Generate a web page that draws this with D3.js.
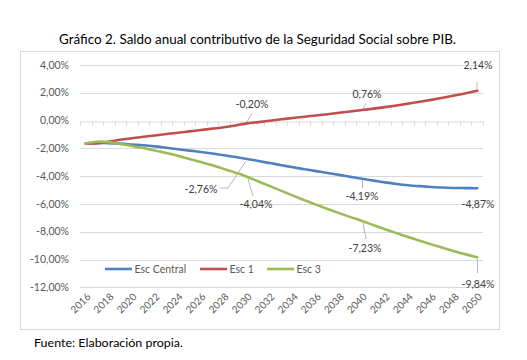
<!DOCTYPE html>
<html>
<head>
<meta charset="utf-8">
<script src="https://cdn.jsdelivr.net/npm/d3@7"></script>
<style>
  body { margin: 0; background: #fff; }
  svg { display: block; font-family: Lato, "Open Sans", sans-serif; }
</style>
</head>
<body>
<svg id="chart" width="527" height="360"></svg>
<script>
const years = d3.range(2016, 2051);
const seriesNames = ["Esc Central", "Esc 1", "Esc 3"];
const escCentral = [-1.65,-1.62,-1.62,-1.66,-1.72,-1.78,-1.86,-1.96,-2.06,-2.16,-2.26,-2.37,-2.49,-2.62,-2.76,
  -2.91,-3.06,-3.21,-3.36,-3.50,-3.64,-3.77,-3.91,-4.05,-4.19,
  -4.32,-4.45,-4.56,-4.65,-4.72,-4.78,-4.82,-4.85,-4.86,-4.87];
const esc1 = [-1.65,-1.62,-1.52,-1.38,-1.27,-1.16,-1.07,-0.97,-0.88,-0.78,-0.68,-0.58,-0.48,-0.35,-0.20,
  -0.11,-0.01,0.09,0.19,0.28,0.37,0.46,0.56,0.66,0.76,
  0.86,0.97,1.09,1.22,1.35,1.49,1.64,1.80,1.96,2.14];
const esc3 = [-1.65,-1.52,-1.55,-1.68,-1.83,-1.98,-2.15,-2.34,-2.54,-2.76,-2.98,-3.22,-3.48,-3.75,-4.04,
  -4.38,-4.72,-5.06,-5.40,-5.73,-6.05,-6.36,-6.66,-6.95,-7.23,
  -7.53,-7.82,-8.10,-8.38,-8.65,-8.91,-9.16,-9.40,-9.63,-9.84];
const yTicks = [4, 2, 0, -2, -4, -6, -8, -10, -12];
const xTickYears = years.filter(y => (y - 2016) % 2 === 0);
const colors = ["#4F81BD", "#C0504D", "#9BBB59"];
const title = "Gráfico 2. Saldo anual contributivo de la Seguridad Social sobre PIB.";
const source = "Fuente: Elaboración propia.";

const series = [escCentral, esc1, esc3];

const svg = d3.select("#chart");
const fmt = v => (v.toFixed(2).replace(".", ",")) + "%";

// chart border
svg.append("rect").attr("x", 20.5).attr("y", 51.5).attr("width", 479).attr("height", 278)
  .attr("fill", "#fff").attr("stroke", "#d9d9d9").attr("stroke-width", 1);

svg.append("text").attr("x", 257.5).attr("y", 44).attr("text-anchor", "middle")
  .attr("font-size", 14).attr("fill", "#000")
  .attr("textLength", 397).attr("lengthAdjust", "spacingAndGlyphs").text(title);

svg.append("text").attr("x", 34).attr("y", 347)
  .attr("font-size", 12).attr("fill", "#000")
  .attr("textLength", 149).attr("lengthAdjust", "spacingAndGlyphs").text(source);

const x = d3.scaleBand().domain(years).range([80, 483]);
const xc = yr => x(yr) + x.bandwidth() / 2;
const y = d3.scaleLinear().domain([-12, 4]).range([287.3, 65]);

// gridlines
svg.append("g").selectAll("line").data(yTicks.filter(t => t !== 0)).join("line")
  .attr("x1", 80).attr("x2", 483)
  .attr("y1", d => Math.round(y(d)) + 0.5).attr("y2", d => Math.round(y(d)) + 0.5)
  .attr("stroke", "#d9d9d9").attr("stroke-width", 1);

// y labels
svg.append("g").selectAll("text").data(yTicks).join("text")
  .attr("x", 69).attr("y", d => y(d)).attr("dy", "0.35em")
  .attr("text-anchor", "end").attr("font-size", 10.5).attr("fill", "#595959")
  .text(d => fmt(d));

// x axis at zero
const y0 = Math.round(y(0)) + 0.5;
const xAxis = d3.axisBottom(x).tickValues([]).tickSize(0).tickSizeOuter(0);
const gx = svg.append("g").attr("transform", `translate(0,${y0})`).call(xAxis);
gx.select(".domain").attr("stroke", "#d9d9d9");
svg.append("g").selectAll("line").data(years.concat([2051])).join("line")
  .attr("x1", d => Math.round(d === 2051 ? 483 : x(d)) + 0.5)
  .attr("x2", d => Math.round(d === 2051 ? 483 : x(d)) + 0.5)
  .attr("y1", y0).attr("y2", y0 + 4)
  .attr("stroke", "#d9d9d9");

// x labels
svg.append("g").selectAll("text").data(xTickYears).join("text")
  .attr("transform", d => `translate(${xc(d) + 3},${295}) rotate(-45)`)
  .attr("text-anchor", "end").attr("dy", "0.35em")
  .attr("font-size", 10).attr("fill", "#595959").text(d => d);

// lines
const line = d3.line().x((d, i) => xc(years[i])).y(d => y(d)).curve(d3.curveCatmullRom.alpha(0.5));
svg.append("g").selectAll("path").data(series).join("path")
  .attr("d", d => line(d)).attr("fill", "none")
  .attr("stroke", (d, i) => colors[i]).attr("stroke-width", 2.6)
  .attr("stroke-linecap", "round").attr("stroke-linejoin", "round");

// data labels
const idx = yr => years.indexOf(yr);
const labels = [
  {s: 1, yr: 2050, tx: 478, ty: 65, lead: [[477, 82], [477, 90]]},
  {s: 1, yr: 2040, tx: 367, ty: 94, lead: [[366, 103], [363, 109]]},
  {s: 1, yr: 2030, tx: 252, ty: 104, lead: [[252, 113], [247, 122]]},
  {s: 0, yr: 2030, tx: 201, ty: 189, lead: [[220, 188], [228, 188], [246, 161]]},
  {s: 2, yr: 2030, tx: 256, ty: 204, lead: [[253, 196], [248, 179]]},
  {s: 0, yr: 2040, tx: 362, ty: 196, lead: [[362.5, 188], [362.5, 180]]},
  {s: 0, yr: 2050, tx: 478, ty: 204, lead: null},
  {s: 2, yr: 2040, tx: 365, ty: 248, lead: [[366, 239], [363, 223]]},
  {s: 2, yr: 2050, tx: 478, ty: 284, lead: [[477.5, 273], [477.5, 259]]}
];
const lg = svg.append("g");
labels.forEach(l => {
  if (l.lead) {
    lg.append("polyline").attr("points", l.lead.map(p => p.join(",")).join(" "))
      .attr("fill", "none").attr("stroke", "#a6a6a6").attr("stroke-width", 0.8);
  }
  lg.append("text").attr("x", l.tx).attr("y", l.ty).attr("dy", "0.35em")
    .attr("text-anchor", "middle").attr("font-size", 10.5).attr("fill", "#404040")
    .text(fmt(series[l.s][idx(l.yr)]));
});

// legend
const legendPos = [105, 200, 267];
const leg = svg.append("g");
seriesNames.forEach((n, i) => {
  leg.append("line").attr("x1", legendPos[i]).attr("x2", legendPos[i] + 27)
    .attr("y1", 269).attr("y2", 269).attr("stroke", colors[i]).attr("stroke-width", 2.6);
  leg.append("text").attr("x", legendPos[i] + 29.5).attr("y", 269).attr("dy", "0.35em")
    .attr("font-size", 10.5).attr("fill", "#595959").text(n);
});
</script>
</body>
</html>
